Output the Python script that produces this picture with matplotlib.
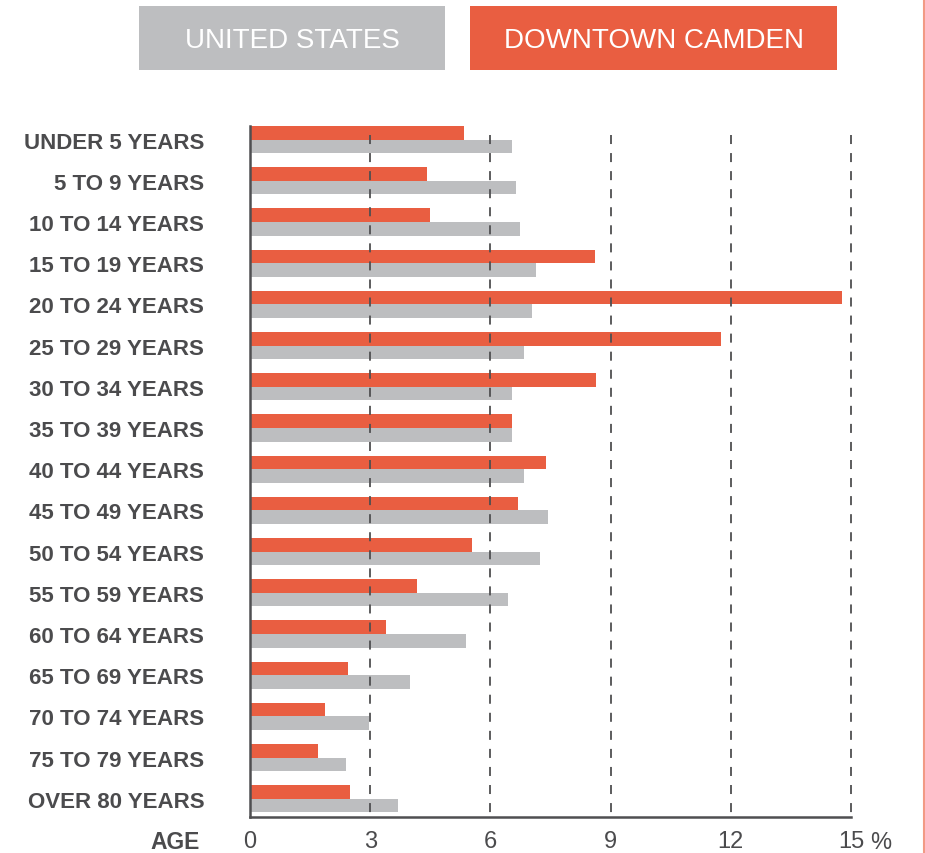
import numpy as np
import matplotlib
matplotlib.use("Agg")
import matplotlib.pyplot as plt
from matplotlib.patches import Rectangle
from matplotlib.lines import Line2D

# --- data ---
age_groups = ["UNDER 5 YEARS", "5 TO 9 YEARS", "10 TO 14 YEARS", "15 TO 19 YEARS",
              "20 TO 24 YEARS", "25 TO 29 YEARS", "30 TO 34 YEARS", "35 TO 39 YEARS",
              "40 TO 44 YEARS", "45 TO 49 YEARS", "50 TO 54 YEARS", "55 TO 59 YEARS",
              "60 TO 64 YEARS", "65 TO 69 YEARS", "70 TO 74 YEARS", "75 TO 79 YEARS",
              "OVER 80 YEARS"]
camden = [5.35, 4.43, 4.5, 8.6, 14.78, 11.75, 8.63, 6.53, 7.38, 6.7,
          5.53, 4.18, 3.4, 2.45, 1.88, 1.7, 2.5]
united_states = [6.53, 6.63, 6.73, 7.13, 7.03, 6.83, 6.53, 6.53, 6.83, 7.43,
                 7.23, 6.43, 5.4, 4.0, 2.98, 2.4, 3.7]
x_ticks = [0, 3, 6, 9, 12, 15]

# --- style ---
ORANGE = "#E95E41"
GRAY = "#BDBEC0"
TEXT = "#4B4B4D"
LINE = "#4F4F51"
plt.rcParams['font.family'] = ['Liberation Sans', 'DejaVu Sans']

W, H = 925, 854
fig = plt.figure(figsize=(W / 100, H / 100), dpi=100)

# axes placed by pixel box: x 250..851, y 127..818
ax = fig.add_axes([250 / W, (H - 818) / H, (851 - 250) / W, (818 - 127) / H])

pos = np.arange(len(age_groups))
h = 0.33
ax.barh(pos - h / 2, camden, height=h, color=ORANGE, zorder=2)
ax.barh(pos + h / 2, united_states, height=h, color=GRAY, zorder=2)

# dashed grid drawn on top of bars
ax.vlines(x_ticks[1:], -0.12, 16.44, colors=LINE, linestyles=(0, (5, 5)),
          linewidth=1.3, zorder=3, clip_on=False)

ax.set_xlim(0, 15)
ax.set_ylim(16.44, -h)

for s in ["top", "right"]:
    ax.spines[s].set_visible(False)
for s in ["left", "bottom"]:
    ax.spines[s].set_color(LINE)
    ax.spines[s].set_linewidth(1.8)
    ax.spines[s].set_zorder(4)

ax.set_xticks(x_ticks)
ax.set_xticklabels([str(t) for t in x_ticks], fontsize=17, color=TEXT)
ax.set_yticks(pos)
ax.set_yticklabels(age_groups, fontsize=16, fontweight="bold", color=TEXT)
ax.tick_params(axis="x", length=0, pad=9.5)
ax.tick_params(axis="y", length=0, pad=33)

fig.text(200 / W, (H - 849) / H, "AGE", ha="right", va="baseline",
         fontsize=16.5, fontweight="bold", color=TEXT)
fig.text(881 / W, (H - 849) / H, "%", ha="center", va="baseline",
         fontsize=17, color=TEXT)

# legend boxes at the top
boxes = [(139, 445, GRAY, "UNITED STATES"), (470, 837, ORANGE, "DOWNTOWN CAMDEN")]
for x0, x1, col, label in boxes:
    fig.add_artist(Rectangle((x0 / W, (H - 71) / H), (x1 - x0) / W, 64 / H,
                             transform=fig.transFigure, color=col, lw=0))
    fig.text((x0 + x1) / 2 / W, (H - 48) / H, label, ha="center", va="baseline",
             fontsize=20, color="white")

# thin orange rule along the right edge
fig.add_artist(Line2D([923.5 / W, 923.5 / W], [0, 1], transform=fig.transFigure,
                      color="#F29A85", lw=1.5))

fig.savefig("out.png", dpi=100)
